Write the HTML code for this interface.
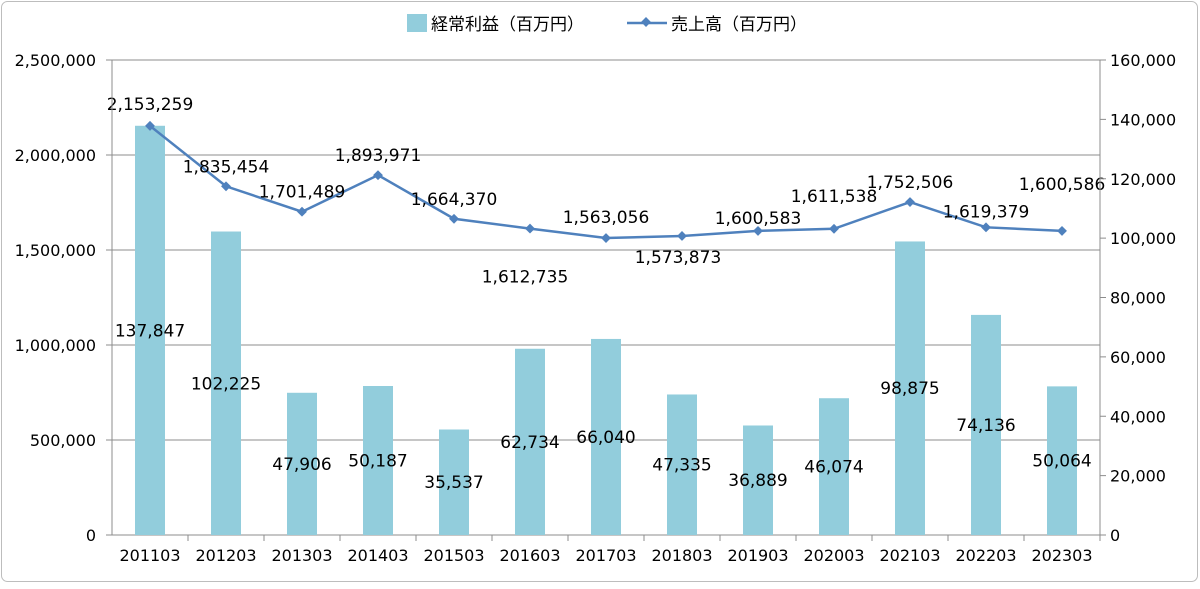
<!DOCTYPE html>
<html><head><meta charset="utf-8"><style>
body{margin:0;background:#fff;}
svg text{font-family:"DejaVu Sans","Noto Sans CJK JP",sans-serif;fill:#000;}
svg text.cjk{font-family:"Noto Sans CJK JP",sans-serif;}
</style></head><body>
<svg id="chart" width="1200" height="584" xmlns="http://www.w3.org/2000/svg">
<rect x="1.5" y="1.5" width="1196" height="580" rx="6" fill="#fff" stroke="#bdbdbd"/>
<g id="grid"></g><g id="bars"></g><g id="line"></g><g id="labels"></g><g id="axes"></g>
<g>
<rect x="407" y="14" width="20" height="18" fill="#92cddc"/>
<text class="cjk" x="431" y="30" font-size="17">経常利益（百万円）</text>
<line x1="627" y1="23" x2="667" y2="23" stroke="#4f81bd" stroke-width="2.5"/>
<rect x="642.5" y="18.5" width="7" height="7" fill="#4f81bd" transform="rotate(45 646 22)"/>
<text class="cjk" x="671" y="30" font-size="17">売上高（百万円）</text>
</g>
</svg>
<script>
const categories=["201103","201203","201303","201403","201503","201603","201703","201803","201903","202003","202103","202203","202303"];
const profit=[137847,102225,47906,50187,35537,62734,66040,47335,36889,46074,98875,74136,50064];
const sales=[2153259,1835454,1701489,1893971,1664370,1612735,1563056,1573873,1600583,1611538,1752506,1619379,1600586];
const leftTicks=[0,500000,1000000,1500000,2000000,2500000];
const rightTicks=[0,20000,40000,60000,80000,100000,120000,140000,160000];
const salesLabelDy=[-22,-20,-20,-20,-20,48,-21,21,-13,-33,-20,-16,-47];
const salesLabelDx=[0,0,0,0,0,-5,0,-4,0,0,0,0,0];
const NS="http://www.w3.org/2000/svg";
const X0=112,X1=1100,Y0=535,Y1=60;
const step=(X1-X0)/categories.length;
const xc=i=>X0+step*(i+0.5);
const yL=v=>Y0-v/2500000*(Y0-Y1);
const yR=v=>Y0-v/160000*(Y0-Y1);
const fmt=v=>v.toLocaleString("en-US");
function mk(tag,attrs,parent,text){const e=document.createElementNS(NS,tag);for(const k in attrs)e.setAttribute(k,attrs[k]);if(text!==undefined)e.textContent=text;document.getElementById(parent).appendChild(e);return e;}
leftTicks.forEach(v=>{
 const y=yL(v);
 const g=mk("line",{x1:X0,x2:X1,y1:y,y2:y,stroke:"#8c8c8c","stroke-width":1},"grid");
 
 
 const t=mk("text",{x:X0-16,y:y+6,"text-anchor":"end","font-size":16},"axes",fmt(v));
 
 
 mk("line",{x1:X0-6,x2:X0,y1:y,y2:y,stroke:"#8c8c8c"},"axes");
});
rightTicks.forEach(v=>{
 const y=yR(v);
 const t=mk("text",{x:X1+10,y:y+6,"font-size":16},"axes",fmt(v));
 
 
 mk("line",{x1:X1,x2:X1+6,y1:y,y2:y,stroke:"#8c8c8c"},"axes");
});
mk("line",{x1:X0,x2:X0,y1:Y1,y2:Y0,stroke:"#8c8c8c"},"axes");
mk("line",{x1:X1,x2:X1,y1:Y1,y2:Y0,stroke:"#8c8c8c"},"axes");
categories.forEach((c,i)=>{
 const t=mk("text",{x:xc(i),y:Y0+26,"text-anchor":"middle","font-size":16},"axes",c);
 
 
 mk("line",{x1:X0+step*(i+1),x2:X0+step*(i+1),y1:Y0,y2:Y0+6,stroke:"#8c8c8c"},"axes");
});
profit.forEach((v,i)=>{
 const y=yR(v);
 const b=mk("rect",{x:xc(i)-15,y:y,width:30,height:Y0-y,fill:"#92cddc"},"bars");
 
 
 const t=mk("text",{x:xc(i),y:(y+Y0)/2+6,"text-anchor":"middle","font-size":17},"labels",fmt(v));
 
 
});
const pts=sales.map((v,i)=>xc(i)+","+yL(v)).join(" ");
const pl=mk("polyline",{points:pts,fill:"none",stroke:"#4f81bd","stroke-width":2.5},"line");


sales.forEach((v,i)=>{
 const x=xc(i),y=yL(v);
 const m=mk("rect",{x:x-3.5,y:y-3.5,width:7,height:7,fill:"#4f81bd",transform:`rotate(45 ${x} ${y})`},"line");
 
 
 const t=mk("text",{x:x+salesLabelDx[i],y:y+salesLabelDy[i]+6,"text-anchor":"middle","font-size":17},"labels",fmt(v));
 
 
});
</script>
</body></html>
